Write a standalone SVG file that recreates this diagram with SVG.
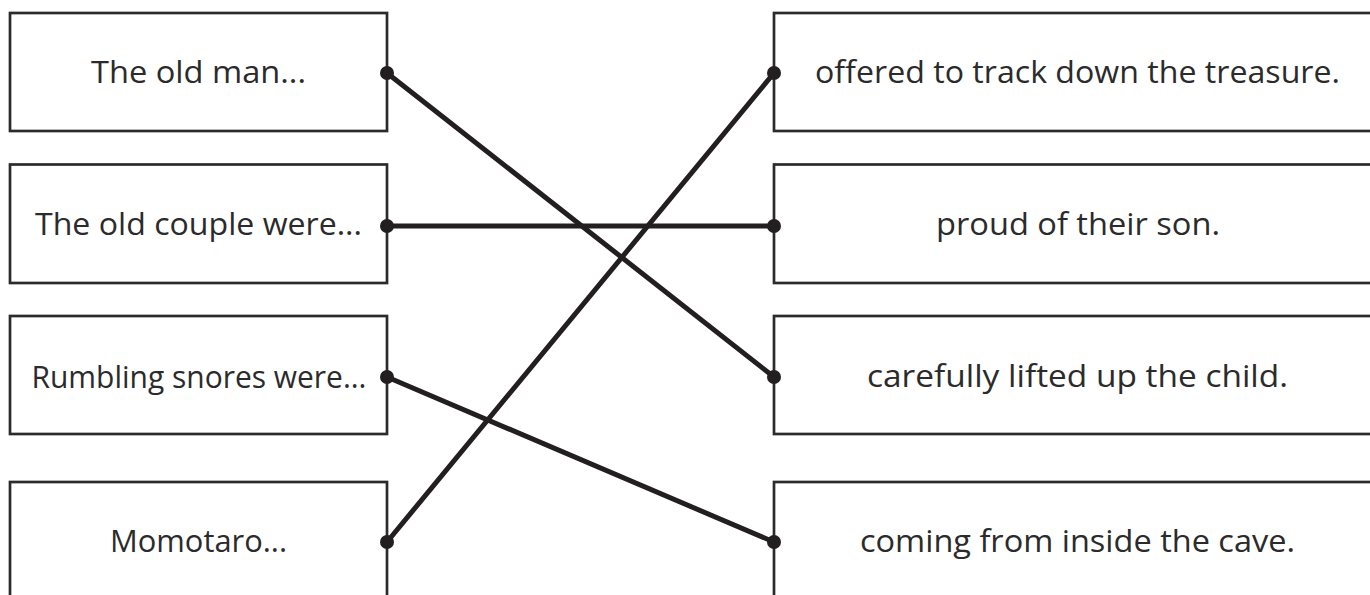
<svg xmlns="http://www.w3.org/2000/svg" width="1370" height="595" viewBox="0 0 1370 595">
<style>
.box{fill:#fff;stroke:#2b2b2b;stroke-width:2.7}
.t{font-family:"Open Sans","Liberation Sans",sans-serif;font-size:31px;fill:#2b2b2b;text-anchor:middle}
.c{stroke:#231f20;stroke-width:5;stroke-linecap:round;fill:none}
.d{fill:#231f20}
</style>
<rect width="1370" height="595" fill="#fff"/>
<g id="left-1"><rect class="box" x="10" y="13" width="377" height="118"/><text class="t" x="198.5" y="83" textLength="215" lengthAdjust="spacingAndGlyphs">The old man...</text></g>
<g id="left-2"><rect class="box" x="10" y="164.5" width="377" height="118.5"/><text class="t" x="198.5" y="235" textLength="327" lengthAdjust="spacingAndGlyphs">The old couple were...</text></g>
<g id="left-3"><rect class="box" x="10" y="316" width="377" height="118"/><text class="t" x="199" y="388" textLength="335" lengthAdjust="spacingAndGlyphs">Rumbling snores were...</text></g>
<g id="left-4"><rect class="box" x="10" y="482" width="377" height="130"/><text class="t" x="198.5" y="552" textLength="177" lengthAdjust="spacingAndGlyphs">Momotaro...</text></g>
<g id="right-1"><rect class="box" x="774" y="13" width="620" height="118"/><text class="t" x="1077.5" y="83" textLength="525" lengthAdjust="spacingAndGlyphs">offered to track down the treasure.</text></g>
<g id="right-2"><rect class="box" x="774" y="164.5" width="620" height="118.5"/><text class="t" x="1078" y="235" textLength="284" lengthAdjust="spacingAndGlyphs">proud of their son.</text></g>
<g id="right-3"><rect class="box" x="774" y="316" width="620" height="118"/><text class="t" x="1077.5" y="387" textLength="421" lengthAdjust="spacingAndGlyphs">carefully lifted up the child.</text></g>
<g id="right-4"><rect class="box" x="774" y="482" width="620" height="130"/><text class="t" x="1077.5" y="552" textLength="435" lengthAdjust="spacingAndGlyphs">coming from inside the cave.</text></g>
<g id="connectors">
<line class="c" x1="387" y1="73" x2="774" y2="377"/>
<line class="c" x1="387" y1="226" x2="774" y2="226"/>
<line class="c" x1="387" y1="377" x2="774" y2="542"/>
<line class="c" x1="387" y1="542" x2="774" y2="73"/>
<circle class="d" cx="387" cy="73" r="7"/>
<circle class="d" cx="387" cy="226" r="7"/>
<circle class="d" cx="387" cy="377" r="7"/>
<circle class="d" cx="387" cy="542" r="7"/>
<circle class="d" cx="774" cy="73" r="7"/>
<circle class="d" cx="774" cy="226" r="7"/>
<circle class="d" cx="774" cy="377" r="7"/>
<circle class="d" cx="774" cy="542" r="7"/>
</g>
</svg>
